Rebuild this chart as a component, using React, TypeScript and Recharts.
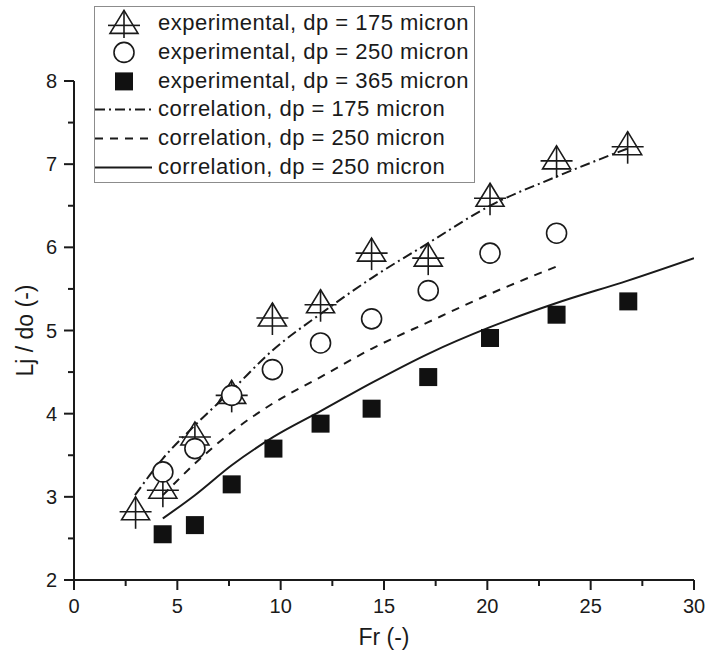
import React from 'react';
import { ComposedChart, Scatter, Line, XAxis, YAxis, Label } from 'recharts';

// experimental points
const frTri = [2.98, 4.3, 5.85, 7.63, 9.6, 11.93, 14.4, 17.14, 20.13, 23.35, 26.79];
const ljTri = [2.82, 3.08, 3.72, 4.22, 5.15, 5.31, 5.93, 5.87, 6.59, 7.04, 7.21];

const frCirc = [4.3, 5.85, 7.63, 9.6, 11.93, 14.4, 17.14, 20.13, 23.35];
const ljCirc = [3.3, 3.58, 4.22, 4.53, 4.85, 5.14, 5.48, 5.93, 6.17];

const frSq = [4.29, 5.85, 7.63, 9.65, 11.93, 14.4, 17.14, 20.13, 23.35, 26.82];
const ljSq = [2.55, 2.66, 3.15, 3.58, 3.88, 4.06, 4.44, 4.91, 5.19, 5.35];

// correlation curves, sampled off the figure
const frCorr175 = [2.95, 4.3, 5.85, 7.63, 9.6, 11.93, 14.4, 17.14, 20.13, 23.35, 26.8];
const ljCorr175 = [3.02, 3.46, 3.86, 4.28, 4.76, 5.2, 5.63, 6.05, 6.5, 6.85, 7.19];

const frCorr250 = [4.3, 5.85, 7.63, 9.6, 11.93, 14.4, 17.14, 20.13, 23.35];
const ljCorr250 = [3.02, 3.4, 3.78, 4.12, 4.44, 4.78, 5.1, 5.44, 5.77];

const frCorrSolid = [4.3, 5.85, 7.63, 9.65, 11.93, 14.4, 17.14, 20.13, 23.35, 26.8, 30];
const ljCorrSolid = [2.74, 3.02, 3.38, 3.72, 4.03, 4.37, 4.72, 5.04, 5.33, 5.6, 5.87];

const xTicks = [0, 2.5, 5, 7.5, 10, 12.5, 15, 17.5, 20, 22.5, 25, 27.5, 30];
const yTicks = [2, 2.5, 3, 3.5, 4, 4.5, 5, 5.5, 6, 6.5, 7, 7.5, 8];

const legendLabels = [
  'experimental, dp = 175 micron',
  'experimental, dp = 250 micron',
  'experimental, dp = 365 micron',
  'correlation, dp = 175 micron',
  'correlation, dp = 250 micron',
  'correlation, dp = 250 micron',
];

const INK = '#1a1a1a';
const FONT = '"Liberation Sans", Arial, sans-serif';

const pairs = (xs: number[], ys: number[]) => xs.map((x, i) => ({ x, y: ys[i] }));

const TriMark = ({ cx, cy }: any) => (
  <g fill="none" stroke={INK} strokeWidth={1.6}>
    <path d={`M${cx},${cy - 15} L${cx + 14},${cy + 8} L${cx - 14},${cy + 8} Z`} strokeLinejoin="miter" />
    <line x1={cx - 16} x2={cx + 16} y1={cy} y2={cy} />
    <line x1={cx} x2={cx} y1={cy - 15} y2={cy + 17} />
  </g>
);

const CircMark = ({ cx, cy }: any) => (
  <circle cx={cx} cy={cy} r={10} fill="#fff" stroke={INK} strokeWidth={1.6} />
);

const SqMark = ({ cx, cy }: any) => <rect x={cx - 9} y={cy - 9} width={18} height={18} fill="#111" />;

const XTick = ({ x, y, payload }: any) => {
  const major = payload.value % 5 === 0;
  return (
    <g>
      <line x1={x} x2={x} y1={y} y2={y + (major ? 10 : 6)} stroke={INK} strokeWidth={2} />
      {major && (
        <text x={x} y={y + 33} textAnchor="middle" fontSize={20} fontFamily={FONT} fill={INK}>
          {payload.value}
        </text>
      )}
    </g>
  );
};

const YTick = ({ x, y, payload }: any) => {
  const major = payload.value % 1 === 0;
  return (
    <g>
      <line x1={x - (major ? 10 : 6)} x2={x} y1={y} y2={y} stroke={INK} strokeWidth={2} />
      {major && (
        <text x={x - 17} y={y + 7} textAnchor="end" fontSize={20} fontFamily={FONT} fill={INK}>
          {payload.value}
        </text>
      )}
    </g>
  );
};

const LegendIcon = ({ i }: { i: number }) => {
  const cy = 14.4;
  return (
    <svg width={63} height={28.8} style={{ display: 'block', flex: 'none' }}>
      {i === 0 && <TriMark cx={29} cy={cy + 2} />}
      {i === 1 && <CircMark cx={29} cy={cy} />}
      {i === 2 && <SqMark cx={29} cy={cy} />}
      {i === 3 && <line x1={0} x2={57} y1={cy} y2={cy} stroke={INK} strokeWidth={2} strokeDasharray="10 4 2 4" />}
      {i === 4 && <line x1={0} x2={57} y1={cy} y2={cy} stroke={INK} strokeWidth={2} strokeDasharray="8 7" />}
      {i === 5 && <line x1={0} x2={57} y1={cy} y2={cy} stroke={INK} strokeWidth={2} />}
    </svg>
  );
};

export default function App() {
  return (
    <div style={{ position: 'absolute', left: 0, top: 0, width: 707, height: 661, background: '#fff' }}>
      <ComposedChart width={707} height={661} margin={{ top: 81, right: 13, bottom: 11, left: 14 }}>
        <XAxis
          type="number"
          dataKey="x"
          domain={[0, 30]}
          ticks={xTicks}
          interval={0}
          tick={<XTick />}
          tickLine={false}
          tickSize={0}
          tickMargin={0}
          axisLine={{ stroke: INK, strokeWidth: 2 }}
          height={70}
          allowDataOverflow
        >
          <Label
            content={({ viewBox }: any) => (
              <text
                x={viewBox.x + viewBox.width / 2}
                y={viewBox.y + 65}
                textAnchor="middle"
                fontSize={23}
                fontFamily={FONT}
                fill={INK}
              >
                Fr (-)
              </text>
            )}
          />
        </XAxis>
        <YAxis
          type="number"
          domain={[2, 8]}
          ticks={yTicks}
          interval={0}
          tick={<YTick />}
          tickLine={false}
          tickSize={0}
          tickMargin={0}
          axisLine={{ stroke: INK, strokeWidth: 2 }}
          width={60}
          allowDataOverflow
        >
          <Label
            content={({ viewBox }: any) => {
              const cx = viewBox.x + 11;
              const cy = viewBox.y + viewBox.height / 2;
              return (
                <text
                  x={cx}
                  y={cy}
                  transform={`rotate(-90 ${cx} ${cy})`}
                  textAnchor="middle"
                  dominantBaseline="central"
                  fontSize={23}
                  fontFamily={FONT}
                  fill={INK}
                >
                  Lj / do (-)
                </text>
              );
            }}
          />
        </YAxis>

        <Line data={pairs(frCorr175, ljCorr175)} dataKey="y" type="monotone" stroke={INK} strokeWidth={2}
          strokeDasharray="10 4 2 4" dot={false} activeDot={false} isAnimationActive={false} />
        <Line data={pairs(frCorr250, ljCorr250)} dataKey="y" type="monotone" stroke={INK} strokeWidth={2}
          strokeDasharray="8 7" dot={false} activeDot={false} isAnimationActive={false} />
        <Line data={pairs(frCorrSolid, ljCorrSolid)} dataKey="y" type="monotone" stroke={INK} strokeWidth={2}
          dot={false} activeDot={false} isAnimationActive={false} />

        <Scatter data={pairs(frTri, ljTri)} dataKey="y" shape={<TriMark />} isAnimationActive={false} />
        <Scatter data={pairs(frCirc, ljCirc)} dataKey="y" shape={<CircMark />} isAnimationActive={false} />
        <Scatter data={pairs(frSq, ljSq)} dataKey="y" shape={<SqMark />} isAnimationActive={false} />
      </ComposedChart>

      <div
        style={{
          position: 'absolute',
          left: 94,
          top: 6,
          width: 381,
          height: 177,
          boxSizing: 'border-box',
          border: '1.5px solid #8c8c8c',
          background: '#fff',
          paddingTop: 2,
          fontFamily: FONT,
          fontSize: 22,
          color: INK,
        }}
      >
        {legendLabels.map((t, i) => (
          <div key={i} style={{ display: 'flex', alignItems: 'center', height: 28.8 }}>
            <LegendIcon i={i} />
            <span style={{ letterSpacing: 0.5, whiteSpace: 'nowrap', lineHeight: '28.8px' }}>{t}</span>
          </div>
        ))}
      </div>
    </div>
  );
}
